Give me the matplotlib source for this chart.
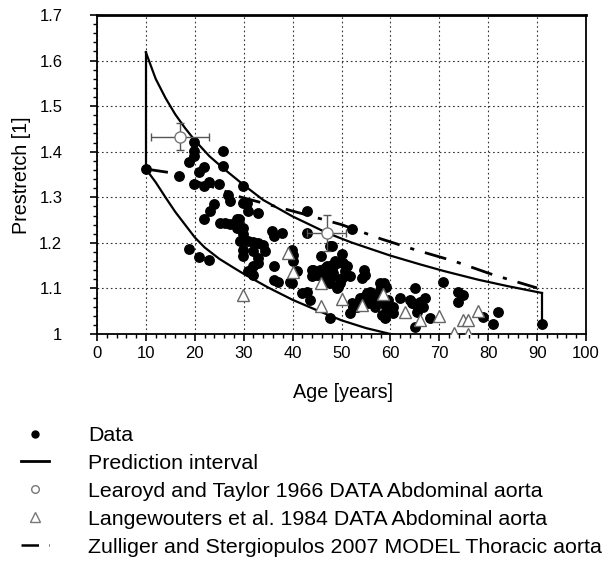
import numpy as np
import matplotlib
matplotlib.use("Agg")
import matplotlib.pyplot as plt
from matplotlib.lines import Line2D
from matplotlib.ticker import MultipleLocator, FormatStrFormatter

plt.rcParams['font.family'] = ['Liberation Sans', 'DejaVu Sans']

# measured data (age, prestretch)
data_age = [10.0, 16.8, 18.9, 18.9, 19.9, 19.9, 19.9, 19.9, 20.9, 20.9, 21.9, 21.9, 21.9, 22.9, 22.9,
            23.1, 23.9, 24.9, 25.8, 25.8, 25.2, 26.2, 27.1, 26.7, 27.1, 28.6, 28.6, 29.0, 29.9, 29.9,
            29.6, 29.2, 29.9, 29.9, 30.9, 31.9, 32.9, 33.9, 30.9, 32.9, 30.7, 35.7, 36.1, 37.8, 42.9,
            42.9, 29.9, 29.9, 32.0, 34.4, 39.8, 40.1, 40.1, 45.9, 47.6, 33.0, 32.0, 30.9, 32.0, 33.0,
            36.1, 36.1, 37.1, 40.8, 39.5, 39.8, 41.9, 42.9, 43.6, 43.9, 44.2, 45.6, 46.6, 47.0, 48.3,
            48.3, 49.0, 43.9, 44.9, 46.3, 47.6, 48.3, 47.6, 47.6, 49.3, 52.1, 48.0, 50.0, 47.0, 48.0,
            48.7, 50.4, 51.1, 50.7, 51.7, 50.0, 49.7, 47.0, 46.6, 54.5, 54.8, 54.1, 49.0, 52.1, 51.7,
            53.1, 53.8, 54.5, 55.2, 55.8, 56.5, 56.2, 55.5, 57.2, 57.9, 58.6, 59.2, 57.9, 58.6, 59.2,
            59.9, 58.2, 58.9, 62.0, 64.0, 64.7, 65.7, 65.0, 70.8, 73.9, 74.9, 73.9, 65.0, 67.1, 66.1,
            66.7, 65.4, 68.1, 64.4, 59.6, 60.6, 60.6, 56.9, 52.4, 79.0, 82.1, 81.0, 90.9, 45.6, 44.2]
data_pre = [1.362, 1.346, 1.377, 1.186, 1.421, 1.402, 1.391, 1.330, 1.355, 1.169, 1.366, 1.325, 1.252, 1.334, 1.163,
            1.270, 1.285, 1.329, 1.402, 1.369, 1.244, 1.243, 1.242, 1.305, 1.292, 1.252, 1.233, 1.253, 1.325, 1.288,
            1.231, 1.204, 1.233, 1.219, 1.204, 1.202, 1.199, 1.196, 1.270, 1.266, 1.288, 1.226, 1.215, 1.222, 1.222,
            1.270, 1.185, 1.171, 1.182, 1.182, 1.185, 1.174, 1.160, 1.171, 1.193, 1.167, 1.149, 1.138, 1.130, 1.156,
            1.149, 1.119, 1.115, 1.138, 1.115, 1.112, 1.090, 1.093, 1.075, 1.141, 1.130, 1.130, 1.145, 1.149, 1.149,
            1.134, 1.156, 1.127, 1.130, 1.130, 1.127, 1.127, 1.112, 1.035, 1.104, 1.230, 1.193, 1.176, 1.145, 1.152,
            1.160, 1.156, 1.149, 1.138, 1.127, 1.123, 1.112, 1.134, 1.119, 1.141, 1.130, 1.123, 1.101, 1.068, 1.046,
            1.060, 1.079, 1.082, 1.090, 1.093, 1.086, 1.075, 1.068, 1.075, 1.112, 1.112, 1.104, 1.097, 1.068, 1.060,
            1.053, 1.042, 1.035, 1.079, 1.075, 1.068, 1.060, 1.016, 1.115, 1.093, 1.086, 1.071, 1.101, 1.079, 1.071,
            1.060, 1.049, 1.035, 1.068, 1.075, 1.060, 1.046, 1.060, 1.060, 1.038, 1.049, 1.023, 1.023, 1.141, 1.141]

# prediction interval
upper_age = [10, 12, 14, 16, 18, 20, 23, 26, 30, 34, 40, 47, 52, 60, 66, 71, 78, 84, 91]
upper_pre = [1.618, 1.560, 1.518, 1.482, 1.452, 1.425, 1.390, 1.362, 1.327, 1.294, 1.258, 1.222, 1.201,
             1.172, 1.153, 1.138, 1.119, 1.105, 1.090]
lower_age = [10, 12, 14, 16, 18, 20, 22, 25, 28, 30, 35, 40, 45, 50, 55, 60, 62]
lower_pre = [1.362, 1.333, 1.300, 1.268, 1.240, 1.212, 1.190, 1.165, 1.145, 1.132, 1.102, 1.075, 1.052,
             1.030, 1.013, 1.000, 0.995]
end_age = [91, 91]
end_pre = [1.090, 1.022]
start_age = [10, 10]
start_pre = [1.362, 1.618]

# Learoyd and Taylor 1966
lt_age = [17.0, 47.0]
lt_pre = [1.433, 1.222]
lt_xerr = [6.0, 4.0]
lt_yerr = [0.03, 0.04]

# Langewouters et al. 1984
lw_age = [29.9, 39.0, 40.0, 45.9, 45.9, 50.0, 54.1, 58.4, 63.0, 66.1, 70.0, 74.9, 75.9, 73.0, 75.9, 78.0]
lw_pre = [1.086, 1.178, 1.135, 1.112, 1.062, 1.077, 1.064, 1.088, 1.048, 1.031, 1.039, 1.031, 1.031,
          1.002, 1.001, 1.051]

# Zulliger and Stergiopulos 2007 model
zs_age = [10, 15, 18, 26, 28.5, 42, 50, 58, 65, 73, 81, 90]
zs_pre = [1.362, 1.354, 1.343, 1.314, 1.303, 1.264, 1.240, 1.209, 1.185, 1.160, 1.130, 1.101]

fig = plt.figure(figsize=(6.13, 5.65), dpi=100)
ax = fig.add_axes([97 / 613, 1 - 334 / 565, (586 - 97) / 613, (334 - 15) / 565])

ax.plot(data_age, data_pre, 'o', color='black', ms=6.8, zorder=3)
ax.plot(upper_age, upper_pre, '-', color='black', lw=1.6, zorder=2)
ax.plot(lower_age, lower_pre, '-', color='black', lw=1.6, zorder=2)
ax.plot(start_age, start_pre, '-', color='black', lw=1.6, zorder=2)
ax.plot(end_age, end_pre, '-', color='black', lw=1.6, zorder=2)
ax.plot(zs_age, zs_pre, color='black', lw=2, dashes=(8, 4, 1.5, 4), zorder=2)
ax.plot(lw_age, lw_pre, '^', mfc='white', mec='#666666', ms=8.5, mew=1, zorder=4)
ax.errorbar(lt_age, lt_pre, xerr=lt_xerr, yerr=lt_yerr, fmt='o', mfc='white', mec='#777777',
            ms=8, mew=1, ecolor='#555555', elinewidth=1, capsize=3, zorder=5)

ax.set_xlim(0, 100)
ax.set_ylim(1, 1.7)
ax.xaxis.set_major_locator(MultipleLocator(10))
ax.xaxis.set_minor_locator(MultipleLocator(2))
ax.yaxis.set_major_locator(MultipleLocator(0.1))
ax.yaxis.set_minor_locator(MultipleLocator(0.02))
ax.yaxis.set_major_formatter(FormatStrFormatter('%g'))
ax.tick_params(which='major', direction='out', length=5, width=1.2, labelsize=12)
ax.tick_params(which='minor', direction='out', length=3, width=1)
ax.tick_params(axis='y', pad=20)
ax.grid(True, which='major', color='#333333', linestyle=(0, (1.5, 2.5)), lw=0.8)
for s in ax.spines.values():
    s.set_linewidth(1.3)
ax.spines['top'].set_linewidth(2)

fig.text(343 / 613, 1 - 393 / 565, 'Age [years]', ha='center', va='center', fontsize=14.2)
fig.text(22 / 613, 1 - 175 / 565, 'Prestretch [1]', ha='center', va='center', rotation=90, fontsize=14.2)

handles = [
    Line2D([], [], marker='o', ls='none', color='black', ms=5),
    Line2D([], [], ls='-', color='black', lw=2),
    Line2D([], [], marker='o', ls='none', mfc='white', mec='#777777', ms=5.5),
    Line2D([], [], marker='^', ls='none', mfc='white', mec='#777777', ms=7),
    Line2D([], [], color='black', lw=1.8, dashes=(7, 4, 1.5, 4)),
]
labels = ['Data', 'Prediction interval', 'Learoyd and Taylor 1966 DATA Abdominal aorta',
          'Langewouters et al. 1984 DATA Abdominal aorta',
          'Zulliger and Stergiopulos 2007 MODEL Thoracic aorta']
fig.legend(handles, labels, loc='upper left', bbox_to_anchor=(21 / 613, 1 - 426 / 565),
           frameon=False, fontsize=15.4, borderpad=0, borderaxespad=0, handlelength=1.3,
           handletextpad=1.85, labelspacing=0.42)

fig.savefig('out.png', dpi=100)
